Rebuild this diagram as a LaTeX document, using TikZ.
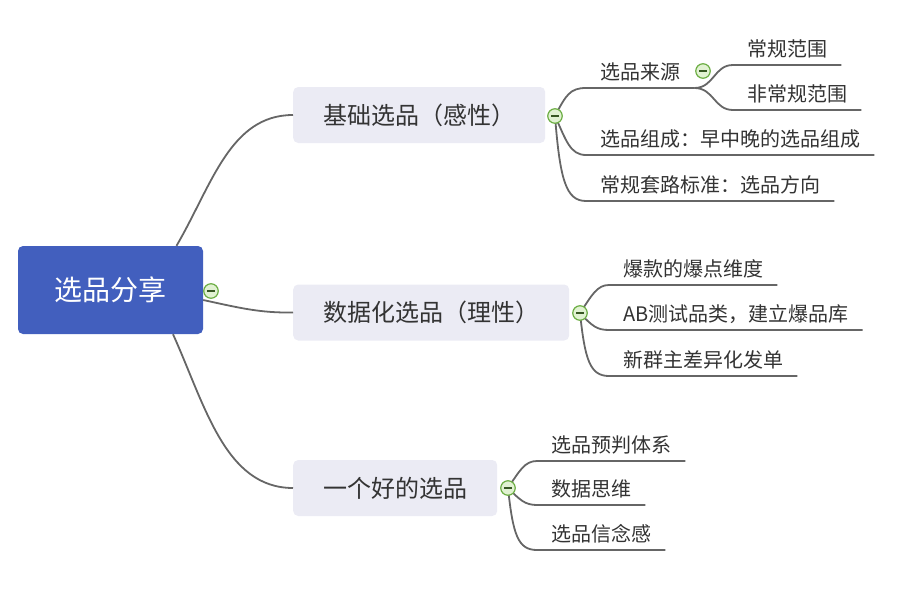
\documentclass[tikz,border=0pt]{standalone}
\usepackage{fontspec}
\setmainfont{Noto Sans CJK SC}
\usetikzlibrary{positioning}
\definecolor{rootblue}{RGB}{66,95,190}
\definecolor{topicgray}{RGB}{235,235,244}
\definecolor{linegray}{RGB}{102,102,102}
\definecolor{togglegreen}{RGB}{110,175,70}
\definecolor{togglefill}{RGB}{225,242,210}
\definecolor{textgray}{RGB}{51,51,51}

\begin{document}
\begin{tikzpicture}[x=1pt,y=-1pt]
    \tikzset{
        rootbox/.style={fill=rootblue, rounded corners=5pt, text=white, minimum width=185pt, minimum height=88pt, font=\fontsize{28pt}{34pt}\selectfont},
        topicbox/.style={fill=topicgray, rounded corners=5pt, text=textgray, inner xsep=30pt, minimum height=56pt, anchor=west, font=\fontsize{24pt}{29pt}\selectfont},
        leafbox/.style={anchor=south west, inner xsep=14pt, inner ysep=6pt, text height=16pt, text depth=2pt, text=textgray, font=\fontsize{20pt}{24pt}\selectfont},
        toggle/.style={circle, draw=togglegreen, fill=togglefill, line width=1.2pt, minimum size=14.5pt, inner sep=0pt,
            path picture={\draw[togglegreen!50!black, line width=1.1pt] ([xshift=-4pt]path picture bounding box.center) -- ([xshift=4pt]path picture bounding box.center);}},
        link/.style={draw=linegray, line width=1.8pt}
    }
    \useasboundingbox (0,0) rectangle (899,605);

    % centre et sujets
    \node[rootbox] (root) at (110.5,290) {选品分享};
    \node[topicbox] (basic) at (293,115) {基础选品（感性）};
    \node[topicbox] (data) at (293,312.5) {数据化选品（理性）};
    \node[topicbox] (good) at (293,488) {一个好的选品};

    \draw[link] ([xshift=66pt]root.north) .. controls (212,185) and (230,115) .. (basic.west);
    \draw[link] ([yshift=-10pt]root.east) .. controls (240,308) and (260,313) .. (data.west);
    \draw[link] ([xshift=62.5pt]root.south) .. controls (205,405) and (225,488) .. (good.west);

    % branche 1
    \node[leafbox] (source) at (586,88) {选品来源};
    \node[leafbox] (mix) at (586,155) {选品组成：早中晚的选品组成};
    \node[leafbox] (route) at (586,201) {常规套路标准：选品方向};
    \node[leafbox] (regular) at (733,65) {常规范围};
    \node[leafbox] (irregular) at (733,110) {非常规范围};

    \draw[link] (555,116) .. controls (566,95) and (570,88) .. (source.south west) -- (source.south east);
    \draw[link] (555,116) .. controls (566,140) and (570,155) .. (mix.south west) -- (mix.south east);
    \draw[link] (555,116) .. controls (560,180) and (566,201) .. (route.south west) -- (route.south east);
    \draw[link] (source.south east) .. controls (714,88) and (714,65) .. (regular.south west) -- (regular.south east);
    \draw[link] (source.south east) .. controls (714,88) and (714,110) .. (irregular.south west) -- (irregular.south east);

    % branche 2
    \node[leafbox] (hitdim) at (609,285) {爆款的爆点维度};
    \node[leafbox] (abtest) at (609,330) {AB测试品类，建立爆品库};
    \node[leafbox] (newgroup) at (609,376) {新群主差异化发单};

    \draw[link] (580,313) .. controls (592,295) and (597,285) .. (hitdim.south west) -- (hitdim.south east);
    \draw[link] (580,313) .. controls (592,326) and (597,330) .. (abtest.south west) -- (abtest.south east);
    \draw[link] (580,313) .. controls (585,360) and (590,376) .. (newgroup.south west) -- (newgroup.south east);

    % branche 3
    \node[leafbox] (predict) at (537,461) {选品预判体系};
    \node[leafbox] (datamind) at (537,505) {数据思维};
    \node[leafbox] (belief) at (537,550) {选品信念感};

    \draw[link] (508,488) .. controls (520,470) and (525,461) .. (predict.south west) -- (predict.south east);
    \draw[link] (508,488) .. controls (520,500) and (525,505) .. (datamind.south west) -- (datamind.south east);
    \draw[link] (508,488) .. controls (513,535) and (518,550) .. (belief.south west) -- (belief.south east);

    % boutons
    \node[toggle] (troot) at (211,291) {};
    \node[toggle] (tbasic) at (555,116) {};
    \node[toggle] (tdata) at (580,313) {};
    \node[toggle] (tgood) at (508,488) {};
    \node[toggle] (tsource) at (703,71) {};
\end{tikzpicture}
\end{document}
